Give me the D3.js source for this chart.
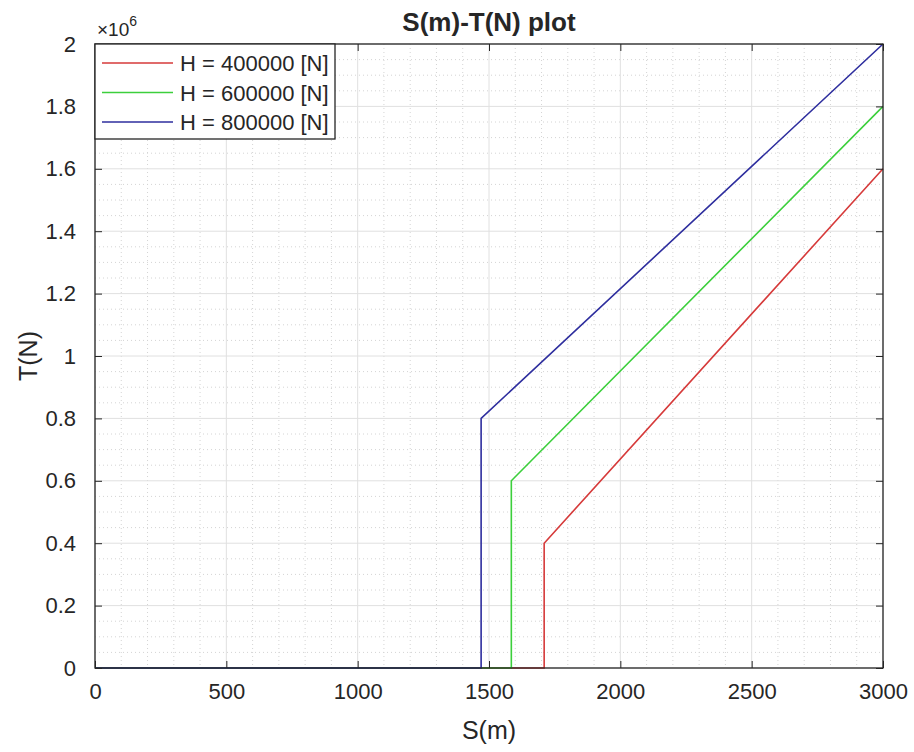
<!DOCTYPE html>
<html>
<head>
<meta charset="utf-8">
<script src="https://cdn.jsdelivr.net/npm/d3@7"></script>
<style>
  body { margin: 0; background: #fff; }
  svg { display: block; }
  text { font-family: "Liberation Sans", Arial, sans-serif; fill: #262626; }
</style>
</head>
<body>
<svg id="chart" width="914" height="752"></svg>
<script>
// ---- data ----
const seriesNames = ["H = 400000 [N]", "H = 600000 [N]", "H = 800000 [N]"];
const seriesH = [400000, 600000, 800000];
const seriesJumpS = [1710, 1585, 1470];
const seriesEndT = [1600000, 1800000, 2000000];
const seriesColors = ["#d63a3a", "#3ccf3c", "#2e2e9e"];
const sDomain = [0, 3000];
const tDomain = [0, 2000000];
const xTicks = [0, 500, 1000, 1500, 2000, 2500, 3000];
const yTicks = [0, 200000, 400000, 600000, 800000, 1000000, 1200000, 1400000, 1600000, 1800000, 2000000];
const yTickLabels = ["0", "0.2", "0.4", "0.6", "0.8", "1", "1.2", "1.4", "1.6", "1.8", "2"];
const xMinorTicks = d3.range(0, 3001, 100);
const yMinorTicks = d3.range(0, 2000001, 50000);

// ---- layout ----
const L = 95, R = 883, T = 44, B = 668;
const svg = d3.select("#chart");
const x = d3.scaleLinear().domain(sDomain).range([L, R]);
const y = d3.scaleLinear().domain(tDomain).range([B, T]);

// minor grid
const g = svg.append("g");
g.selectAll(".mx").data(xMinorTicks.filter(v => v % 500 !== 0)).join("line")
  .attr("x1", d => x(d)).attr("x2", d => x(d)).attr("y1", T).attr("y2", B)
  .attr("stroke", "#d4d4d4").attr("stroke-width", 1).attr("stroke-dasharray", "1,3");
g.selectAll(".my").data(yMinorTicks.filter(v => v % 200000 !== 0)).join("line")
  .attr("y1", d => y(d)).attr("y2", d => y(d)).attr("x1", L).attr("x2", R)
  .attr("stroke", "#d4d4d4").attr("stroke-width", 1).attr("stroke-dasharray", "1,3");
// major grid
g.selectAll(".gx").data(xTicks).join("line")
  .attr("x1", d => x(d)).attr("x2", d => x(d)).attr("y1", T).attr("y2", B)
  .attr("stroke", "#e0e0e0").attr("stroke-width", 1);
g.selectAll(".gy").data(yTicks).join("line")
  .attr("y1", d => y(d)).attr("y2", d => y(d)).attr("x1", L).attr("x2", R)
  .attr("stroke", "#e0e0e0").attr("stroke-width", 1);

// axes (ticks inside, box on all sides)
const tickLen = 7;
const fontTick = 22;
const xAxisB = d3.axisBottom(x).tickValues(xTicks).tickSizeInner(-tickLen).tickSizeOuter(0).tickPadding(15).tickFormat(d3.format("d"));
const xAxisT = d3.axisTop(x).tickValues(xTicks).tickSizeInner(-tickLen).tickSizeOuter(0).tickFormat("");
const yAxisL = d3.axisLeft(y).tickValues(yTicks).tickSizeInner(-tickLen).tickSizeOuter(0).tickPadding(19).tickFormat((d, i) => yTickLabels[i]);
const yAxisR = d3.axisRight(y).tickValues(yTicks).tickSizeInner(-tickLen).tickSizeOuter(0).tickFormat("");

function styleAxis(sel) {
  sel.select(".domain").remove();
  sel.selectAll(".tick line").attr("stroke", "#262626");
  sel.selectAll(".tick text").attr("font-size", fontTick).attr("fill", "#404040")
    .attr("font-family", "Liberation Sans, Arial, sans-serif");
}

// series lines
const line = d3.line().x(d => x(d[0])).y(d => y(d[1]));
const series = seriesNames.map((name, i) => ({
  name, color: seriesColors[i],
  pts: [[sDomain[0], 0], [seriesJumpS[i], 0], [seriesJumpS[i], seriesH[i]], [sDomain[1], seriesEndT[i]]]
}));
svg.append("g").selectAll("path").data(series).join("path")
  .attr("d", d => line(d.pts)).attr("fill", "none")
  .attr("stroke", d => d.color).attr("stroke-width", 1.6);

svg.append("g").attr("transform", `translate(0,${B})`).call(xAxisB).call(styleAxis);
svg.append("g").attr("transform", `translate(0,${T})`).call(xAxisT).call(styleAxis);
svg.append("g").attr("transform", `translate(${L},0)`).call(yAxisL).call(styleAxis);
svg.append("g").attr("transform", `translate(${R},0)`).call(yAxisR).call(styleAxis);

// box
svg.append("rect").attr("x", L).attr("y", T).attr("width", R - L).attr("height", B - T)
  .attr("fill", "none").attr("stroke", "#262626").attr("stroke-width", 1.3);

// exponent label
const ex = svg.append("text").attr("x", L + 2).attr("y", T - 8).attr("font-size", 19).attr("fill", "#404040");
ex.append("tspan").text("\u00d710");
ex.append("tspan").attr("dy", -10).attr("font-size", 14).text("6");

// title
svg.append("text").attr("x", (L + R) / 2).attr("y", 31).attr("text-anchor", "middle")
  .attr("font-size", 26).attr("font-weight", "bold").attr("fill", "#000").text("S(m)-T(N) plot");

// axis labels
svg.append("text").attr("x", (L + R) / 2).attr("y", 739).attr("text-anchor", "middle")
  .attr("font-size", 25).attr("fill", "#404040").text("S(m)");
svg.append("text").attr("transform", `translate(37,${(T + B) / 2}) rotate(-90)`).attr("text-anchor", "middle")
  .attr("font-size", 25).attr("fill", "#404040").text("T(N)");

// legend
const lg = svg.append("g");
const lgW = 240, lgH = 95;
lg.append("rect").attr("x", L).attr("y", T).attr("width", lgW).attr("height", lgH)
  .attr("fill", "#fff").attr("stroke", "#262626").attr("stroke-width", 1.3);
const rowY = d3.scalePoint().domain(seriesNames).range([T + 19, T + 78]);
const rows = lg.selectAll(".row").data(series).join("g")
  .attr("transform", d => `translate(0,${rowY(d.name)})`);
rows.append("line").attr("x1", L + 7).attr("x2", L + 78).attr("y1", 0).attr("y2", 0)
  .attr("stroke", d => d.color).attr("stroke-width", 1.6);
rows.append("text").attr("x", L + 85).attr("y", 8).attr("font-size", 22).attr("fill", "#404040").text(d => d.name);
</script>
</body>
</html>
